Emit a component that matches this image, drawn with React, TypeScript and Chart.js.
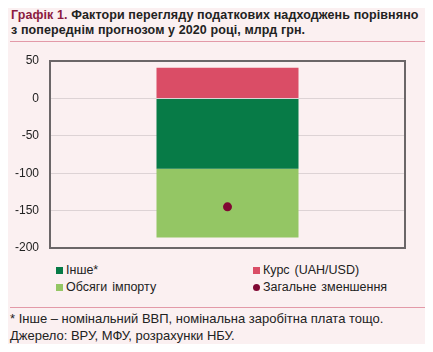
import React, { useEffect, useRef } from "react";
import { Chart, registerables } from "chart.js";

Chart.register(...registerables);

const categories = [""];
const otherValues = [-94];
const rateValues = [41];
const importValues = [-92];
const totalValues = [-145];
const yMin = -200;
const yMax = 50;
const yStep = 50;

const BG = "#FBF0F1";
const FONT = "'Liberation Sans', Arial, sans-serif";

const framePlugin = {
  id: "frame",
  afterDatasetsDraw(chart: any) {
    const { ctx, chartArea } = chart;
    ctx.save();
    ctx.strokeStyle = "#6b6668";
    ctx.lineWidth = 2;
    ctx.strokeRect(chartArea.left, chartArea.top, chartArea.right - chartArea.left, chartArea.bottom - chartArea.top);
    ctx.restore();
  },
};

export default function App() {
  const ref = useRef<HTMLCanvasElement>(null);
  useEffect(() => {
    if (!ref.current) return;
    const chart = new Chart(ref.current, {
      type: "bar",
      data: {
        labels: categories,
        datasets: [
          { type: "bar", label: "Інше*", data: otherValues, backgroundColor: "#077B47", stack: "s", order: 1 },
          { type: "bar", label: "Обсяги імпорту", data: importValues, backgroundColor: "#94C664", stack: "s", order: 1 },
          { type: "bar", label: "Курс (UAH/USD)", data: rateValues, backgroundColor: "#DA4D66", stack: "s", order: 1 },
          {
            type: "line",
            label: "Загальне зменшення",
            data: totalValues,
            showLine: false,
            pointRadius: 4.5,
            pointBackgroundColor: "#800833",
            pointBorderColor: "#800833",
            pointBorderWidth: 0,
            stack: "p",
            order: 0,
          } as any,
        ],
      },
      options: {
        animation: false,
        responsive: false,
        maintainAspectRatio: false,
        layout: { padding: { left: 0, right: 28, top: 11, bottom: 12 } },
        datasets: { bar: { categoryPercentage: 0.4, barPercentage: 1 } } as any,
        plugins: { legend: { display: false }, tooltip: { enabled: false } },
        scales: {
          x: { display: false, stacked: true, offset: true },
          y: {
            stacked: true,
            min: yMin,
            max: yMax,
            ticks: { stepSize: yStep, padding: 11, color: "#222", font: { family: FONT, size: 12 } },
            grid: { color: "#DDD3D5", drawTicks: false },
            border: { display: false },
            afterFit(axis: any) {
              axis.width = 50;
              axis.paddingTop = 0;
              axis.paddingBottom = 0;
            },
          },
        },
      },
      plugins: [framePlugin],
    });
    return () => chart.destroy();
  }, []);

  const legendItem = (color: string, label: string, round: boolean, left: number, top: number) => (
    <div style={{ position: "absolute", left, top, display: "flex", alignItems: "center", fontSize: 12.5, color: "#222", wordSpacing: 1.5 }}>
      <span
        style={{
          display: "inline-block",
          width: 7,
          height: 7,
          background: color,
          borderRadius: round ? "50%" : 0,
          marginRight: 3,
        }}
      />
      <span>{label}</span>
    </div>
  );

  return (
    <div style={{ position: "relative", width: 433, height: 352, margin: -8, background: BG, fontFamily: FONT, overflow: "hidden" }}>
      <div style={{ position: "absolute", left: 11, top: 8, fontSize: 12.5, fontWeight: "bold", color: "#222", lineHeight: "15px", letterSpacing: 0.1, whiteSpace: "nowrap" }}>
        <span style={{ color: "#8B1A40" }}>Графік 1.</span> Фактори перегляду податкових надходжень порівняно
        <br />з попереднім прогнозом у 2020 році, млрд грн.
      </div>
      <div style={{ position: "absolute", left: 10, top: 41, width: 417, height: 1, background: "#E39AA8" }} />
      <canvas ref={ref} width={433} height={210} style={{ position: "absolute", left: 0, top: 50, width: 433, height: 210 }} />
      {legendItem("#077B47", "Інше*", false, 56, 263)}
      {legendItem("#94C664", "Обсяги імпорту", false, 56, 280)}
      {legendItem("#DA4D66", "Курс (UAH/USD)", false, 253, 263)}
      {legendItem("#800833", "Загальне зменшення", true, 253, 280)}
      <div style={{ position: "absolute", left: 10, top: 307, width: 417, height: 1, background: "#E39AA8" }} />
      <div style={{ position: "absolute", left: 10, top: 310, fontSize: 13, color: "#222", lineHeight: "17px", whiteSpace: "nowrap" }}>
        * Інше – номінальний ВВП, номінальна заробітна плата тощо.
        <br />
        Джерело: ВРУ, МФУ, розрахунки НБУ.
      </div>
    </div>
  );
}
